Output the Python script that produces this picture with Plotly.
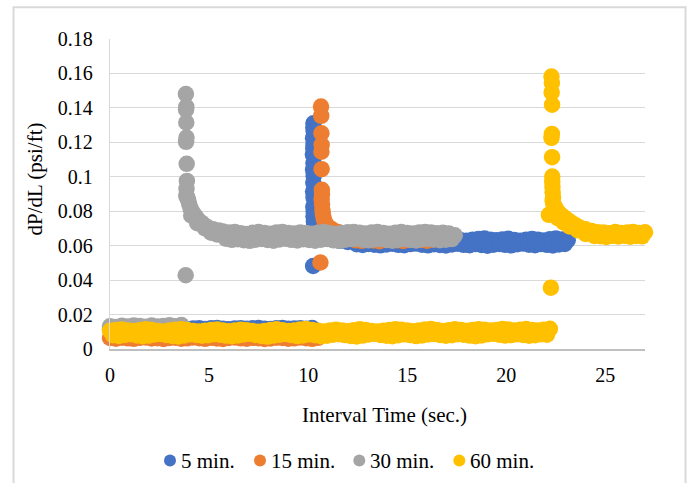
import plotly.graph_objects as go

# ================= data =================
# ---- 5 min. (blue) ----
blue_base_x = [0.0, 0.3, 0.6, 0.9, 1.2, 1.5, 1.8, 2.1, 2.4, 2.7,
               3.0, 3.3, 3.6, 3.9, 4.2, 4.5, 4.8, 5.1, 5.4, 5.7,
               6.0, 6.3, 6.6, 6.9, 7.2, 7.5, 7.8, 8.1, 8.4, 8.7,
               9.0, 9.3, 9.6, 9.9, 10.2]
blue_base_y = [0.0116, 0.0119, 0.0114, 0.0118, 0.0121, 0.0117, 0.0113, 0.0118, 0.0120, 0.0115,
               0.0119, 0.0122, 0.0117, 0.0114, 0.0119, 0.0121, 0.0116, 0.0120, 0.0122, 0.0118,
               0.0115, 0.0119, 0.0121, 0.0117, 0.0120, 0.0122, 0.0118, 0.0116, 0.0120, 0.0122,
               0.0117, 0.0119, 0.0121, 0.0118, 0.0122]
blue_spike_x = [10.25, 10.27, 10.26, 10.28, 10.25, 10.27, 10.26, 10.24, 10.27, 10.25,
                10.28, 10.26, 10.25, 10.27, 10.26, 10.28, 10.27, 10.29, 10.30, 10.32, 10.35,
                10.45, 10.6, 10.8, 11.0, 11.3, 11.6, 12.0]
blue_spike_y = [0.0482, 0.1311, 0.1285, 0.1263, 0.1224, 0.1190, 0.1166, 0.1130, 0.1079, 0.1040,
                0.1005, 0.0966, 0.0914, 0.0880, 0.0827, 0.0800, 0.0770, 0.0740, 0.0715, 0.0690, 0.0672,
                0.0660, 0.0652, 0.0645, 0.0640, 0.0633, 0.0628, 0.0622]
blue_plat_hi_x = [12.3, 12.6, 12.9, 13.2, 13.5, 13.8, 14.1, 14.4, 14.7, 15.0,
                  15.3, 15.6, 15.9, 16.2, 16.5, 16.8, 17.1, 17.4, 17.7, 18.0,
                  18.3, 18.6, 18.9, 19.2, 19.5, 19.8, 20.1, 20.4, 20.7, 21.0,
                  21.3, 21.6, 21.9, 22.2, 22.5, 22.8, 23.1]
blue_plat_hi_y = [0.0634, 0.0630, 0.0637, 0.0632, 0.0628, 0.0635, 0.0639, 0.0633, 0.0629, 0.0636,
                  0.0640, 0.0634, 0.0630, 0.0637, 0.0633, 0.0629, 0.0635, 0.0639, 0.0632, 0.0628,
                  0.0634, 0.0638, 0.0641, 0.0635, 0.0631, 0.0636, 0.0640, 0.0633, 0.0629, 0.0635,
                  0.0639, 0.0634, 0.0630, 0.0637, 0.0641, 0.0636, 0.0632]
blue_plat_lo_x = [12.45, 12.75, 13.05, 13.35, 13.65, 13.95, 14.25, 14.55, 14.85, 15.15,
                  15.45, 15.75, 16.05, 16.35, 16.65, 16.95, 17.25, 17.55, 17.85, 18.15,
                  18.45, 18.75, 19.05, 19.35, 19.65, 19.95, 20.25, 20.55, 20.85, 21.15,
                  21.45, 21.75, 22.05, 22.35, 22.65, 22.95]
blue_plat_lo_y = [0.0608, 0.0604, 0.0610, 0.0606, 0.0602, 0.0607, 0.0611, 0.0605, 0.0603, 0.0609,
                  0.0612, 0.0606, 0.0602, 0.0608, 0.0604, 0.0601, 0.0607, 0.0611, 0.0605, 0.0603,
                  0.0609, 0.0604, 0.0600, 0.0606, 0.0610, 0.0605, 0.0602, 0.0608, 0.0612, 0.0606,
                  0.0603, 0.0609, 0.0605, 0.0601, 0.0607, 0.0610]

# ---- 15 min. (orange) ----
orange_base_x = [0.0, 0.3, 0.6, 0.9, 1.2, 1.5, 1.8, 2.1, 2.4, 2.7,
                 3.0, 3.3, 3.6, 3.9, 4.2, 4.5, 4.8, 5.1, 5.4, 5.7,
                 6.0, 6.3, 6.6, 6.9, 7.2, 7.5, 7.8, 8.1, 8.4, 8.7,
                 9.0, 9.3, 9.6, 9.9, 10.2, 10.5]
orange_base_y = [0.0064, 0.0060, 0.0066, 0.0062, 0.0059, 0.0065, 0.0067, 0.0061, 0.0063, 0.0058,
                 0.0064, 0.0066, 0.0060, 0.0062, 0.0067, 0.0063, 0.0059, 0.0065, 0.0061, 0.0058,
                 0.0064, 0.0067, 0.0062, 0.0060, 0.0065, 0.0063, 0.0058, 0.0061, 0.0066, 0.0064,
                 0.0060, 0.0062, 0.0067, 0.0063, 0.0059, 0.0065]
orange_spike_x = [10.62, 10.65, 10.66, 10.67, 10.68, 10.67, 10.68, 10.69, 10.70, 10.68,
                  10.70, 10.72, 10.74, 10.78, 10.83, 10.90,
                  11.0, 11.2, 11.5, 11.8, 12.1]
orange_spike_y = [0.0502, 0.1408, 0.1354, 0.1253, 0.1185, 0.1146, 0.1044, 0.0924, 0.0900, 0.0870,
                  0.0840, 0.0810, 0.0785, 0.0760, 0.0740, 0.0725,
                  0.0710, 0.0695, 0.0680, 0.0668, 0.0655]
orange_plat_x = [12.4, 12.7, 13.0, 13.3, 13.6, 13.9, 14.2, 14.5, 14.8, 15.1,
                 15.4, 15.7, 16.0, 16.3]
orange_plat_y = [0.0632, 0.0628, 0.0636, 0.0630, 0.0626, 0.0634, 0.0638, 0.0631, 0.0627, 0.0635,
                 0.0639, 0.0633, 0.0629, 0.0636]

# ---- 30 min. (gray) ----
gray_base_x = [0.0, 0.3, 0.6, 0.9, 1.2, 1.5, 1.8, 2.1, 2.4, 2.7, 3.0, 3.3, 3.6]
gray_base_y = [0.0132, 0.0128, 0.0135, 0.0130, 0.0137, 0.0133, 0.0129, 0.0136, 0.0131, 0.0134,
               0.0138, 0.0132, 0.0139]
gray_spike_x = [3.82, 3.83, 3.85, 3.84, 3.85, 3.86, 3.84, 3.87, 3.88, 3.86, 3.85,
                3.90, 3.94, 4.00, 4.07, 4.14, 4.25, 4.35, 4.44, 4.60, 4.75,
                4.95, 5.20, 5.50, 4.10, 4.40, 4.80, 5.10, 5.40]
gray_spike_y = [0.0428, 0.1480, 0.1406, 0.1389, 0.1315, 0.1228, 0.1203, 0.1075, 0.0976, 0.0930, 0.0889,
                0.0880, 0.0866, 0.0840, 0.0815, 0.0800, 0.0780, 0.0765, 0.0750, 0.0735, 0.0720,
                0.0705, 0.0695, 0.0688, 0.0775, 0.0730, 0.0700, 0.0675, 0.0665]
gray_plat_hi_x = [5.7, 6.0, 6.3, 6.6, 6.9, 7.2, 7.5, 7.8, 8.1, 8.4,
                  8.7, 9.0, 9.3, 9.6, 9.9, 10.2, 10.5, 10.8, 11.1, 11.4,
                  11.7, 12.0, 12.3, 12.6, 12.9, 13.2, 13.5, 13.8, 14.1, 14.4,
                  14.7, 15.0, 15.3, 15.6, 15.9, 16.2, 16.5, 16.8, 17.1, 17.4]
gray_plat_hi_y = [0.0682, 0.0676, 0.0680, 0.0672, 0.0668, 0.0675, 0.0679, 0.0673, 0.0669, 0.0676,
                  0.0680, 0.0674, 0.0670, 0.0677, 0.0673, 0.0669, 0.0675, 0.0679, 0.0672, 0.0668,
                  0.0674, 0.0678, 0.0680, 0.0675, 0.0671, 0.0676, 0.0679, 0.0673, 0.0669, 0.0675,
                  0.0679, 0.0674, 0.0670, 0.0677, 0.0680, 0.0676, 0.0672, 0.0675, 0.0670, 0.0660]
gray_plat_lo_x = [5.85, 6.15, 6.45, 6.75, 7.05, 7.35, 7.65, 7.95, 8.25, 8.55,
                  8.85, 9.15, 9.45, 9.75, 10.05, 10.35, 10.65, 10.95, 11.25, 11.55,
                  11.85, 12.15, 12.45, 12.75, 13.05, 13.35, 13.65, 13.95, 14.25, 14.55,
                  14.85, 15.15, 15.45, 15.75, 16.05, 16.35, 16.65, 16.95, 17.25]
gray_plat_lo_y = [0.0640, 0.0634, 0.0637, 0.0632, 0.0628, 0.0635, 0.0639, 0.0633, 0.0629, 0.0636,
                  0.0640, 0.0634, 0.0630, 0.0637, 0.0633, 0.0629, 0.0635, 0.0639, 0.0632, 0.0628,
                  0.0634, 0.0638, 0.0640, 0.0635, 0.0631, 0.0636, 0.0639, 0.0633, 0.0629, 0.0635,
                  0.0639, 0.0634, 0.0630, 0.0637, 0.0640, 0.0636, 0.0632, 0.0635, 0.0638]

# ---- 60 min. (yellow) ----
yellow_base_hi_x = [0.0, 0.3, 0.6, 0.9, 1.2, 1.5, 1.8, 2.1, 2.4, 2.7,
                    3.0, 3.3, 3.6, 3.9, 4.2, 4.5, 4.8, 5.1, 5.4, 5.7,
                    6.0, 6.3, 6.6, 6.9, 7.2, 7.5, 7.8, 8.1, 8.4, 8.7,
                    9.0, 9.3, 9.6, 9.9, 10.2, 10.5, 10.8, 11.1, 11.4, 11.7,
                    12.0, 12.3, 12.6, 12.9, 13.2, 13.5, 13.8, 14.1, 14.4, 14.7,
                    15.0, 15.3, 15.6, 15.9, 16.2, 16.5, 16.8, 17.1, 17.4, 17.7,
                    18.0, 18.3, 18.6, 18.9, 19.2, 19.5, 19.8, 20.1, 20.4, 20.7,
                    21.0, 21.3, 21.6, 21.9, 22.2]
yellow_base_hi_y = [0.0106, 0.0110, 0.0113, 0.0108, 0.0104, 0.0109, 0.0114, 0.0111, 0.0105, 0.0102,
                    0.0107, 0.0112, 0.0115, 0.0110, 0.0104, 0.0101, 0.0106, 0.0111, 0.0113, 0.0108,
                    0.0103, 0.0107, 0.0112, 0.0109, 0.0104, 0.0100, 0.0105, 0.0110, 0.0114, 0.0109,
                    0.0104, 0.0108, 0.0113, 0.0116, 0.0111, 0.0106, 0.0102, 0.0107, 0.0112, 0.0108,
                    0.0103, 0.0109, 0.0114, 0.0110, 0.0105, 0.0101, 0.0106, 0.0111, 0.0115, 0.0112,
                    0.0107, 0.0103, 0.0108, 0.0113, 0.0116, 0.0110, 0.0105, 0.0109, 0.0114, 0.0111,
                    0.0106, 0.0110, 0.0115, 0.0112, 0.0107, 0.0111, 0.0116, 0.0113, 0.0108, 0.0112,
                    0.0116, 0.0111, 0.0107, 0.0112, 0.0117]
yellow_base_lo_x = [0.15, 0.45, 0.75, 1.05, 1.35, 1.65, 1.95, 2.25, 2.55, 2.85,
                    3.15, 3.45, 3.75, 4.05, 4.35, 4.65, 4.95, 5.25, 5.55, 5.85,
                    6.15, 6.45, 6.75, 7.05, 7.35, 7.65, 7.95, 8.25, 8.55, 8.85,
                    9.15, 9.45, 9.75, 10.05, 10.35, 10.65, 10.95, 11.25, 11.55, 11.85,
                    12.15, 12.45, 12.75, 13.05, 13.35, 13.65, 13.95, 14.25, 14.55, 14.85,
                    15.15, 15.45, 15.75, 16.05, 16.35, 16.65, 16.95, 17.25, 17.55, 17.85,
                    18.15, 18.45, 18.75, 19.05, 19.35, 19.65, 19.95, 20.25, 20.55, 20.85,
                    21.15, 21.45, 21.75, 22.05]
yellow_base_lo_y = [0.0080, 0.0076, 0.0082, 0.0086, 0.0079, 0.0074, 0.0078, 0.0084, 0.0087, 0.0081,
                    0.0076, 0.0073, 0.0079, 0.0085, 0.0082, 0.0077, 0.0080, 0.0086, 0.0083, 0.0078,
                    0.0074, 0.0079, 0.0084, 0.0088, 0.0082, 0.0076, 0.0072, 0.0078, 0.0083, 0.0087,
                    0.0081, 0.0075, 0.0079, 0.0085, 0.0080, 0.0074, 0.0077, 0.0083, 0.0086, 0.0081,
                    0.0076, 0.0073, 0.0078, 0.0084, 0.0088, 0.0082, 0.0077, 0.0074, 0.0080, 0.0085,
                    0.0081, 0.0075, 0.0079, 0.0084, 0.0087, 0.0082, 0.0077, 0.0080, 0.0086, 0.0083,
                    0.0078, 0.0074, 0.0079, 0.0085, 0.0088, 0.0083, 0.0078, 0.0081, 0.0086, 0.0082,
                    0.0077, 0.0080, 0.0085, 0.0083]
yellow_spike_x = [22.25, 22.28, 22.30, 22.29, 22.31, 22.30, 22.28, 22.31, 22.32, 22.32,
                  22.33, 22.34, 22.36, 22.15,
                  22.34, 22.38, 22.45, 22.55, 22.65, 22.80, 22.95, 23.10, 23.30, 23.50,
                  23.70, 24.00, 24.30, 24.60, 22.60, 22.90, 23.20, 23.60, 24.00, 24.45]
yellow_spike_y = [0.0356, 0.1582, 0.1544, 0.1490, 0.1418, 0.1249, 0.1226, 0.1114, 0.1001, 0.0970,
                  0.0940, 0.0910, 0.0880, 0.0779,
                  0.0860, 0.0840, 0.0825, 0.0805, 0.0790, 0.0775, 0.0760, 0.0748, 0.0732, 0.0718,
                  0.0705, 0.0695, 0.0685, 0.0678, 0.0760, 0.0735, 0.0712, 0.0690, 0.0668, 0.0656]
yellow_plat_hi_x = [24.9, 25.2, 25.5, 25.8, 26.1, 26.4, 26.7, 27.0]
yellow_plat_hi_y = [0.0676, 0.0672, 0.0679, 0.0674, 0.0677, 0.0680, 0.0673, 0.0678]
yellow_plat_lo_x = [24.75, 25.05, 25.35, 25.65, 25.95, 26.25, 26.55, 26.85]
yellow_plat_lo_y = [0.0655, 0.0651, 0.0657, 0.0653, 0.0658, 0.0652, 0.0656, 0.0654]

blue_x = blue_base_x + blue_spike_x + blue_plat_hi_x + blue_plat_lo_x
blue_y = blue_base_y + blue_spike_y + blue_plat_hi_y + blue_plat_lo_y
orange_x = orange_base_x + orange_spike_x + orange_plat_x
orange_y = orange_base_y + orange_spike_y + orange_plat_y
gray_x = gray_base_x + gray_spike_x + gray_plat_hi_x + gray_plat_lo_x
gray_y = gray_base_y + gray_spike_y + gray_plat_hi_y + gray_plat_lo_y
yellow_x = yellow_base_hi_x + yellow_base_lo_x + yellow_spike_x + yellow_plat_hi_x + yellow_plat_lo_x
yellow_y = yellow_base_hi_y + yellow_base_lo_y + yellow_spike_y + yellow_plat_hi_y + yellow_plat_lo_y

series_names = ["5 min.", "15 min.", "30 min.", "60 min."]
series_colors = ["#4472C4", "#ED7D31", "#A5A5A5", "#FFC000"]
x_ticks = [0, 5, 10, 15, 20, 25]
y_ticks = [0, 0.02, 0.04, 0.06, 0.08, 0.1, 0.12, 0.14, 0.16, 0.18]
y_tick_text = ["0", "0.02", "0.04", "0.06", "0.08", "0.1", "0.12", "0.14", "0.16", "0.18"]

FONT = "Liberation Serif, Times New Roman, serif"

# plot-area geometry in pixels (for converting page positions to paper coords)
L, R, T, B = 110, 645, 39, 349
def px(xp):
    return (xp - L) / (R - L)
def py(yp):
    return (B - yp) / (B - T)

fig = go.Figure()
for name, color, xs, ys in zip(series_names, series_colors,
                               [blue_x, orange_x, gray_x, yellow_x],
                               [blue_y, orange_y, gray_y, yellow_y]):
    fig.add_trace(go.Scatter(
        x=xs, y=ys, mode="markers", name=name, cliponaxis=False, showlegend=False,
        marker=dict(color=color, size=16.5, line=dict(width=0)),
    ))

# custom legend (marker circle + text) matching the reference spacing
legend_marker_px = [170, 260, 359.3, 459.3]
legend_y_px = 460.5
shapes = [dict(type="rect", xref="paper", yref="paper",
               x0=px(13.5), x1=px(685.5), y0=py(495), y1=py(7.3),
               line=dict(color="#d9d9d9", width=2), layer="below")]
annotations = [
    dict(text="Interval Time (sec.)", xref="paper", yref="paper",
         x=px(384), y=py(415), xanchor="center", yanchor="middle", showarrow=False,
         font=dict(family=FONT, size=21, color="#000000")),
    dict(text="dP/dL (psi/ft)", xref="paper", yref="paper",
         x=px(34.5), y=py(179), xanchor="center", yanchor="middle", showarrow=False,
         textangle=-90, font=dict(family=FONT, size=21, color="#000000")),
]
for name, color, mx in zip(series_names, series_colors, legend_marker_px):
    shapes.append(dict(type="circle", xref="paper", yref="paper",
                       xsizemode="pixel", ysizemode="pixel",
                       xanchor=px(mx), yanchor=py(legend_y_px),
                       x0=-6, x1=6, y0=-6, y1=6,
                       fillcolor=color, line=dict(width=0)))
    annotations.append(dict(text=name, xref="paper", yref="paper",
                            x=px(mx + 9), y=py(legend_y_px), xanchor="left", yanchor="middle",
                            showarrow=False,
                            font=dict(family=FONT, size=21, color="#000000")))

fig.update_layout(
    width=692, height=483, autosize=False,
    margin=dict(l=L, r=692 - R, t=T, b=483 - B),
    paper_bgcolor="white", plot_bgcolor="white",
    font=dict(family=FONT, color="#000000", size=20),
    showlegend=False,
    xaxis=dict(range=[0, 27], tickvals=x_ticks, showgrid=False, zeroline=False,
               showline=True, linecolor="#bfbfbf", linewidth=1.5,
               ticks="", ticklabelstandoff=7,
               tickfont=dict(family=FONT, size=20, color="#000000")),
    yaxis=dict(range=[0, 0.18], tickvals=y_ticks, ticktext=y_tick_text,
               showgrid=True, gridcolor="#d9d9d9", gridwidth=1.4, zeroline=False,
               showline=True, linecolor="#d9d9d9", linewidth=1.4,
               ticks="", ticklabelstandoff=12,
               tickfont=dict(family=FONT, size=20, color="#000000")),
    shapes=shapes,
    annotations=annotations,
)

fig.write_html("out.html")
